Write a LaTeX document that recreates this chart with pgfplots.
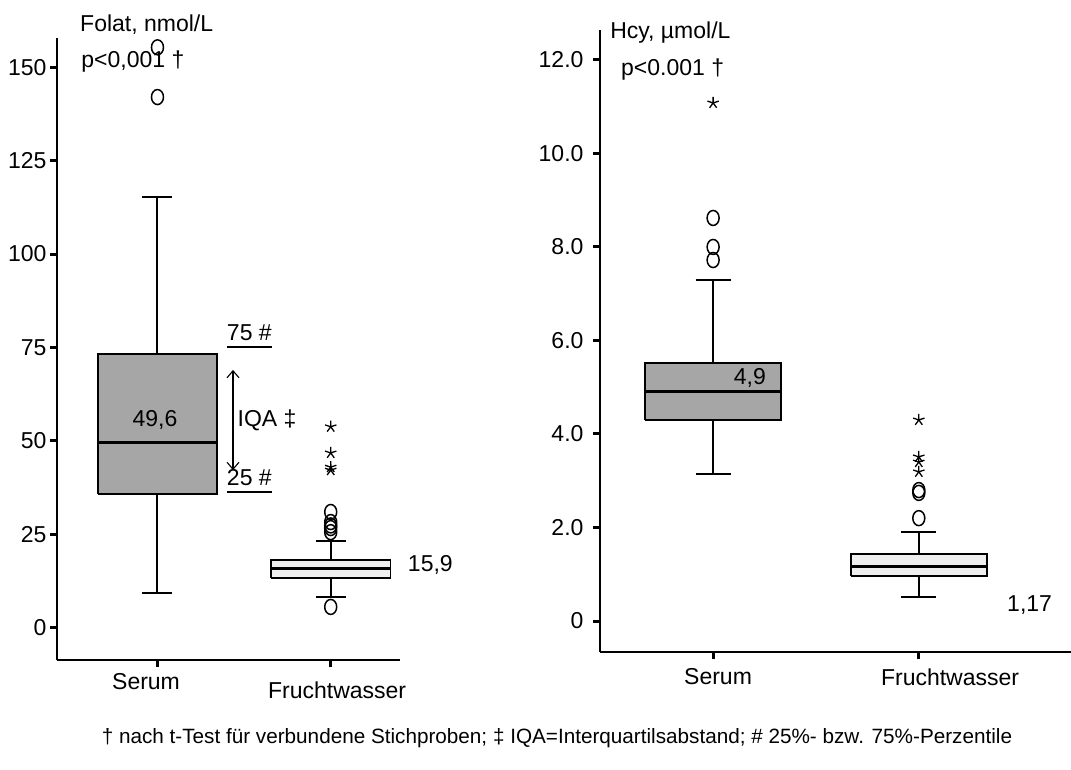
\documentclass[border=0pt]{standalone}
\usepackage{pgfplots}
\pgfplotsset{compat=1.18}
\usetikzlibrary{arrows.meta}
\usepackage{fontspec}
\setmainfont{Liberation Sans}
\definecolor{boxdark}{HTML}{A6A6A6}
\definecolor{boxlight}{HTML}{EFEFEF}
\newcommand{\lbl}{\fontsize{23}{27}\selectfont}
\newcommand{\notefont}{\fontsize{20.7}{25}\selectfont}

\begin{document}
\begin{tikzpicture}[font=\lbl]
\useasboundingbox (0pt,0pt) rectangle (1071pt,769pt);
\pgfplotsset{
  panel/.style={
    scale only axis, clip=false,
    axis x line*=bottom, axis y line*=left,
    axis line style={line width=2.2pt,-},
    tick align=outside,
    major tick length=7pt,
    every tick/.style={line width=3pt, black},
    xtick={1,2}, xticklabels={},
    tick label style={font=\lbl},
    /pgf/number format/assume math mode=true,
  },
  whisk/.style={black, line width=2pt, mark=none},
  box/.style={draw=black, line width=1.8pt, mark=none, line join=miter},
  med/.style={black, line width=2.8pt, mark=none},
  outl/.style={only marks, mark=o, mark size=7.5pt, mark options={line width=1.5pt, xscale=0.8, black}},
  extr/.style={only marks, mark=star, mark size=6pt, mark options={line width=1.3pt, black}},
}

% Folate: serum vs amniotic fluid
\begin{axis}[panel,
  at={(57pt,109pt)}, anchor=south west,
  width=343pt, height=622pt,
  xmin=0.42, xmax=2.40, ymin=-8.6, ymax=157.8,
  ytick={0,25,50,75,100,125,150},
]
% Serum
\addplot[whisk] coordinates {(1,9.4) (1,115.2)};
\addplot[whisk] coordinates {(0.9135,9.4) (1.0865,9.4)};
\addplot[whisk] coordinates {(0.9135,115.2) (1.0865,115.2)};
\addplot[box, fill=boxdark] coordinates {(0.655,35.8) (1.345,35.8) (1.345,73.3) (0.655,73.3) (0.655,35.8)};
\addplot[med] coordinates {(0.655,49.6) (1.345,49.6)};
% Fruchtwasser
\addplot[whisk] coordinates {(2,8.3) (2,23.3)};
\addplot[whisk] coordinates {(1.9135,8.3) (2.0865,8.3)};
\addplot[whisk] coordinates {(1.9135,23.3) (2.0865,23.3)};
\addplot[box, fill=boxlight] coordinates {(1.655,13.4) (2.345,13.4) (2.345,18.2) (1.655,18.2) (1.655,13.4)};
\addplot[med] coordinates {(1.655,15.9) (2.345,15.9)};
% outliers and extremes
\addplot[outl] coordinates {(1,155.3) (1,142.0) (2,31.0) (2,28.3) (2,27.4) (2,26.7) (2,25.6) (2,5.6)};
\addplot[extr] coordinates {(2,53.8) (2,46.8) (2,43.0) (2,42.2)};

\node[anchor=west, inner sep=0pt] at (axis cs:0.553,161.5) {Folat, nmol/L};
\node[anchor=west, inner sep=0pt] at (axis cs:0.560,151.4) {p<0,001 †};
\node at (axis cs:0.986,55.6) {49,6};
\node[anchor=west, inner sep=0pt] at (axis cs:2.445,16.8) {15,9};
\node[anchor=base west, inner sep=0pt] at (axis cs:1.40,76.8) {75 \#};
\draw[line width=2pt] (axis cs:1.40,75.1) -- (axis cs:1.66,75.1);
\node[anchor=base west, inner sep=0pt] at (axis cs:1.40,38.0) {25 \#};
\draw[line width=2pt] (axis cs:1.40,36.3) -- (axis cs:1.66,36.3);
\draw[line width=1.1pt, {Straight Barb[length=7pt,width=12pt]}-{Straight Barb[length=7pt,width=12pt]}] (axis cs:1.436,69.0) -- (axis cs:1.436,42.2);
\node[anchor=west, inner sep=0pt] at (axis cs:1.462,55.6) {IQA ‡};
\node at (axis cs:0.934,-14.5) {Serum};
\node at (axis cs:2.037,-16.7) {Fruchtwasser};
\end{axis}

% Homocysteine: serum vs amniotic fluid
\begin{axis}[panel,
  at={(600pt,117pt)}, anchor=south west,
  width=471pt, height=622pt,
  xmin=0.45, xmax=2.74, ymin=-0.663, ymax=12.64,
  ytick={0,2,4,6,8,10,12},
  yticklabels={0,2.0,4.0,6.0,8.0,10.0,12.0},
  yticklabel style={xshift=-6pt},
]
% Serum
\addplot[whisk] coordinates {(1,3.14) (1,7.29)};
\addplot[whisk] coordinates {(0.915,3.14) (1.085,3.14)};
\addplot[whisk] coordinates {(0.915,7.29) (1.085,7.29)};
\addplot[box, fill=boxdark] coordinates {(0.67,4.30) (1.33,4.30) (1.33,5.52) (0.67,5.52) (0.67,4.30)};
\addplot[med] coordinates {(0.67,4.9) (1.33,4.9)};
% Fruchtwasser
\addplot[whisk] coordinates {(2,0.51) (2,1.90)};
\addplot[whisk] coordinates {(1.915,0.51) (2.085,0.51)};
\addplot[whisk] coordinates {(1.915,1.90) (2.085,1.90)};
\addplot[box, fill=boxlight] coordinates {(1.67,0.96) (2.33,0.96) (2.33,1.43) (1.67,1.43) (1.67,0.96)};
\addplot[med] coordinates {(1.67,1.17) (2.33,1.17)};
% outliers and extremes
\addplot[outl] coordinates {(1,8.62) (1,8.00) (1,7.72) (2,2.80) (2,2.74) (2,2.20)};
\addplot[extr] coordinates {(1,11.08) (2,4.30) (2,3.51) (2,3.40) (2,3.19)};

\node[anchor=west, inner sep=0pt] at (axis cs:0.499,12.58) {Hcy, µmol/L};
\node[anchor=west, inner sep=0pt] at (axis cs:0.552,11.79) {p<0.001 †};
\node at (axis cs:1.179,5.198) {4,9};
\node[anchor=west, inner sep=0pt] at (axis cs:2.429,0.342) {1,17};
\node at (axis cs:1.024,-1.198) {Serum};
\node at (axis cs:2.152,-1.198) {Fruchtwasser};
\end{axis}

\node[font=\notefont] at (557pt,31pt) {† nach t-Test für verbundene Stichproben; ‡ IQA=Interquartilsabstand; \# 25\%- bzw. 75\%-Perzentile};
\end{tikzpicture}
\end{document}
